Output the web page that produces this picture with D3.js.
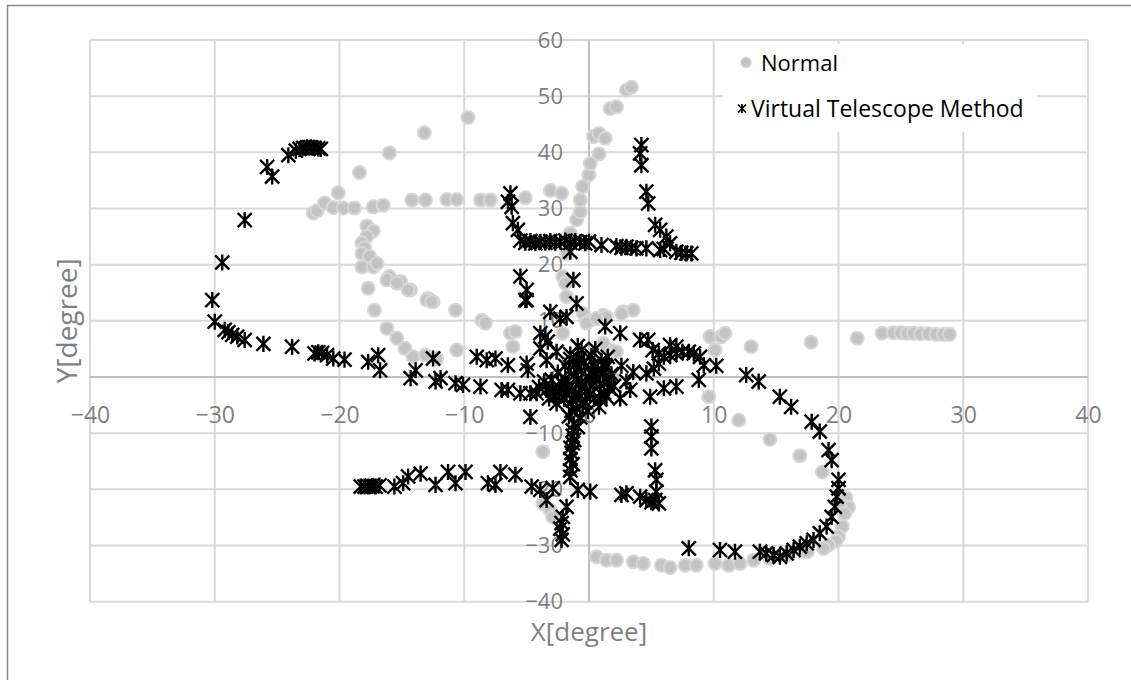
<!DOCTYPE html>
<html>
<head>
<meta charset="utf-8">
<script src="https://cdn.jsdelivr.net/npm/d3@7"></script>
<style>
  html, body { margin: 0; padding: 0; background: #fff; }
  svg { display: block; font-family: "Open Sans", "DejaVu Sans", sans-serif; }
</style>
</head>
<body>
<svg id="chart" width="1131" height="680"></svg>
<script>
// ---- Data ----
const xTicks = [-40, -30, -20, -10, 0, 10, 20, 30, 40];
const yTicks = [-40, -30, -20, -10, 0, 10, 20, 30, 40, 50, 60];
const seriesNames = ["Normal", "Virtual Telescope Method"];
const axisTitles = ["X[degree]", "Y[degree]"];

// Series 1: Normal (grey circles)
const normalX = [
  -18.4, -20.1, -22.1, -21.8, -21.2, -20.5, -19.7, -18.8, -17.3, -16.5, -14.2, -13.1, -11.4, -10.6, -8.7, -7.9, -5.1, -3.1, -2.2,
  -16.0, -13.2, -9.7,
  -17.8, -17.3, -17.8, -18.2, -18.0, -18.2, -17.6, -18.2, -17.3, -17.0,
  -16.0, -15.1, -14.3, -12.9, -12.5, -10.7, -8.6, -8.3, -6.3, -5.9,
  -17.7, -16.2, -15.4, -14.5, -13.0, -12.6,
  -17.2, -16.2, -15.4, -14.75, -14.1, -13.1, -12.2, -10.6, -6.1,
  -1.5, -1.0, -0.7, -0.7, -0.5, 0.0, 0.1, 0.8, 0.35, 0.8, 1.3, 1.7, 2.2, 3.0, 3.4,
  -1.8, -2.1, -1.9, -1.8, -0.46, 0.1, 1.15, 2.75, 3.55, 2.6, 1.4, -0.2, 0.6,
  9.7, 10.6, 10.9, 10.1, 13.0, 17.8, 21.5, 23.5, 24.4, 25.0, 25.5, 26.0, 26.6, 27.2, 27.8, 28.4, 28.9,
  -2.1, 1.7, 1.15, 2.2, 1.95, 9.6, 12.0, 14.5, 16.9, 18.7,
  20.6, 20.8, 20.1, 20.5, 20.3, 20.0, 19.8, 19.2, 18.8,
  0.6, 1.4, 2.2, 3.55, 4.35, 5.8, 6.5, 7.7, 8.6, 10.1, 11.2, 12.1, 13.2, 14.5, 16.0, 17.5,
  -3.7, -3.7, -3.1, -2.9
];
const normalY = [
  36.4, 32.8, 29.2, 29.6, 31.0, 30.2, 30.1, 30.1, 30.3, 30.6, 31.5, 31.5, 31.6, 31.6, 31.5, 31.5, 31.9, 33.2, 32.7,
  39.9, 43.5, 46.2,
  26.9, 26.0, 25.0, 23.9, 23.0, 22.0, 21.5, 19.6, 19.6, 20.2,
  17.9, 17.0, 15.5, 14.0, 13.4, 11.9, 10.1, 9.6, 7.8, 8.1,
  15.8, 17.3, 16.7, 15.5, 13.7, 13.4,
  11.9, 8.7, 6.9, 5.1, 3.6, 3.9, 3.3, 4.8, 5.4,
  25.6, 28.0, 29.4, 31.5, 33.9, 36.0, 38.0, 39.7, 42.8, 43.4, 42.5, 47.8, 48.1, 51.1, 51.6,
  22.0, 17.9, 16.7, 14.3, 11.3, 10.1, 11.0, 11.6, 11.9, 11.3, 10.7, 9.6, 10.4,
  7.2, 7.2, 7.8, 4.8, 5.4, 6.2, 6.9, 7.8, 7.9, 7.9, 7.8, 7.8, 7.7, 7.7, 7.6, 7.6, 7.6,
  7.8, 4.8, 6.0, 4.5, 0.05, -3.5, -7.7, -11.1, -14.0, -16.9,
  -21.5, -23.2, -22.5, -24.3, -26.6, -28.4, -29.2, -29.9, -30.5,
  -32.0, -32.6, -32.6, -32.9, -33.2, -33.5, -33.9, -33.5, -33.5, -33.2, -33.5, -33.2, -32.6, -32.3, -31.7, -31.1,
  -13.3, -22.5, -23.7, -24.9
];

// Series 2: Virtual Telescope Method (stars)
const vtX = [
  -24.1, -23.5, -23.2, -22.9, -22.6, -22.3, -22.0, -21.7, -21.5,
  -25.8, -25.4, -27.6, -29.4, -30.2, -30.0,
  -29.2, -28.9, -28.6, -28.2, -27.6, -26.1, -23.8, -22.0, -21.7, -21.4, -21.0, -20.5, -19.6, -17.7, -16.9, -16.75, -14.3, -13.9, -12.5, -12.3,
  -11.9, -10.7, -10.1, -8.7, -7.0, -6.5, -5.5, -4.7, -4.2, -3.4, -2.6, -4.7,
  -9.0, -8.2, -7.5, -6.5, -5.0, -4.9, -3.4,
  -5.0, -3.1, -1.0, -1.8, 1.3, -3.5, -3.3, -3.9, -0.6, -2.3, -3.9,
  -5.5, -5.0, -5.1, -1.25,
  -6.3, -6.5, -6.2, -6.1, -5.7,
  -5.5, -5.1, -4.7, -4.3, -3.9, -3.5, -3.1, -2.7, -2.3, -1.9, -1.5, -1.1, -0.7, -0.3, 0.0,
  -1.5, 1.0, 2.2, 2.6, 3.0, 3.4, 3.8, 4.6,
  4.2, 4.1, 4.2, 4.6, 4.75, 5.3, 5.7, 6.2, 6.5, 5.7, 6.0, 7.0, 7.4, 7.8, 8.2,
  -1.5, -0.8, 0.2, 1.0, -1.9, -0.3, 0.7, 1.8, -1.2, 0.0, -0.6, 0.9, 2.0, -1.7, -0.2, 1.2, -1.1, 0.4, -2.0, -0.5, 0.8, -1.4, -0.7, -1.2, 0.3, -2.5, -3.0, -2.2, 2.6, 3.0, -0.9, 0.5, 1.5, -2.6, -3.2, -4.0, -3.6,
  -1.0, -0.4, 0.4, 1.3, -1.6, -0.9, 0.2, 1.1, -1.9, -1.0, 0.6, 1.5, -1.4, -0.6, 0.3, 1.6, -1.8, -0.8, 0.1, -1.3, -0.3, 0.9, -1.0, -0.1, -1.6, -0.9, -2.4, -2.9, -2.7, -1.5,
  -1.3, -1.3, -1.2, -1.3, -1.4, -1.3, -1.5, -1.5, -1.5, -1.5, -0.9, 0.1, -1.8, -2.1, -2.2, -2.3, -2.1, -2.2,
  2.5, 4.1, 4.75, 6.5, 7.0, 5.1, 5.6, 6.0, 6.5, 7.0, 7.5, 8.0, 8.4, 8.9, 9.2, 10.2, 8.8, 7.0, 6.0, 4.9, 3.3, 2.5, 3.55, 4.6, 5.2, 5.6, 1.4, 1.4,
  12.6, 13.6, 15.3, 16.2, 17.85, 18.5, 19.2, 19.45, 20.0, 20.0, 19.85, 19.7, 19.45, 19.05, 18.5, 18.0, 17.45, 16.9, 16.4, 15.85, 15.3, 14.8, 14.2, 13.7, 11.7, 10.5, 8.0,
  5.0, 5.0, 5.0, 5.3, 5.4, 5.4, 5.3, 5.6, 5.0, 3.0, 4.1, 4.6, 2.6,
  -18.3, -18.0, -17.7, -17.4, -17.1, -16.8, -15.6, -14.9, -14.5, -13.5, -12.3, -11.3, -10.7, -9.9, -8.1, -7.5, -7.1, -5.9, -4.6, -3.9, -3.4, -2.9
];
const vtY = [
  39.5, 40.3, 40.6, 40.8, 40.9, 40.9, 40.8, 40.7, 40.6,
  37.4, 35.7, 27.95, 20.4, 13.7, 9.85,
  8.4, 8.0, 7.5, 7.2, 6.6, 5.9, 5.4, 4.2, 4.4, 4.3, 3.9, 3.3, 3.1, 2.7, 3.9, 1.2, -0.2, 1.2, 3.3, -0.8,
  -0.2, -1.1, -1.4, -1.7, -2.3, -2.3, -2.9, -2.9, -2.9, -2.3, -4.7, -7.1,
  3.6, 3.0, 3.3, 2.1, 2.4, 1.2, 3.0,
  13.7, 11.6, 13.1, 10.7, 9.0, 7.2, 6.3, 5.1, 4.8, 10.4, 7.8,
  17.9, 15.5, 13.7, 17.3,
  32.7, 31.2, 30.3, 27.4, 26.2,
  24.3, 23.9, 24.2, 23.8, 24.1, 23.9, 24.2, 23.9, 24.1, 24.3, 23.9, 24.2, 24.0, 23.8, 24.1,
  22.3, 23.5, 23.3, 23.0, 23.2, 23.0, 22.9, 22.9,
  41.3, 39.8, 37.7, 33.0, 30.9, 27.1, 26.2, 25.0, 23.8, 22.6, 22.8, 22.3, 22.1, 22.0, 22.0,
  4.0, 3.2, 3.8, 2.9, 2.0, 1.8, 1.2, 0.5, 0.3, -0.2, -0.9, -1.3, -1.6, -1.6, -2.4, -2.8, -3.2, -3.9, -3.9, -5.0, -5.3, -6.0, -7.2, -8.3, 0.6, 0.8, -0.5, -1.0, 2.0, -0.8, 5.5, 5.0, 3.6, 4.5, -3.8, -1.8, -0.8,
  2.5, 2.7, 2.3, 2.1, 1.1, 1.4, 1.0, 0.8, -0.4, -0.6, -0.4, -0.7, -2.2, -1.8, -1.5, -2.0, -2.9, -3.0, -3.1, -4.2, -4.4, -4.0, -5.6, -6.1, -7.0, -8.9, -2.6, -2.0, -3.4, 3.2,
  -9.5, -10.5, -11.2, -11.8, -13.5, -15.5, -17.8, -12.6, -14.6, -16.6, -20.1, -20.4, -23.1, -24.9, -26.0, -27.0, -28.0, -29.0,
  7.8, 6.6, 6.6, 5.7, 5.4, 4.8, 4.2, 3.6, 3.9, 4.2, 4.5, 4.5, 4.2, 3.6, 2.1, 2.0, -0.5, -1.7, -2.0, -3.5, -2.3, -3.8, 0.9, 0.65, 1.5, 2.4, 1.8, -3.5,
  0.35, -0.8, -3.5, -5.3, -7.95, -9.7, -13.0, -14.8, -18.3, -19.8, -21.3, -23.1, -24.9, -26.6, -27.8, -29.0, -29.6, -30.2, -30.8, -31.4, -32.0, -31.7, -31.4, -31.1, -31.1, -30.8, -30.5,
  -8.8, -10.6, -12.7, -16.6, -18.3, -20.4, -21.9, -22.5, -22.3, -20.7, -21.3, -21.9, -21.0,
  -19.5, -19.5, -19.5, -19.4, -19.5, -19.3, -19.5, -18.9, -17.7, -17.2, -19.2, -16.9, -18.9, -16.9, -18.9, -19.2, -16.9, -17.4, -19.5, -20.1, -21.9, -19.8
];

// ---- Chart ----
const svg = d3.select("#chart");
const W = 1131, H = 680;
const plot = { left: 90, right: 1088, top: 40, bottom: 601.7 };

const x = d3.scaleLinear().domain([-40, 40]).range([plot.left, plot.right]);
const y = d3.scaleLinear().domain([-40, 60]).range([plot.bottom, plot.top]);

// outer chart border
svg.append("rect")
  .attr("x", 7.5).attr("y", 5.5)
  .attr("width", W + 20).attr("height", H + 20)
  .attr("fill", "#fff").attr("stroke", "#8a8a8a").attr("stroke-width", 1.5);

// gridlines
const grid = svg.append("g");
grid.selectAll("line.v").data(xTicks).join("line")
  .attr("x1", d => x(d)).attr("x2", d => x(d))
  .attr("y1", plot.top).attr("y2", plot.bottom)
  .attr("stroke", "#d9d9d9").attr("stroke-width", 2);
grid.selectAll("line.h").data(yTicks).join("line")
  .attr("x1", plot.left).attr("x2", plot.right)
  .attr("y1", d => y(d)).attr("y2", d => y(d))
  .attr("stroke", "#d9d9d9").attr("stroke-width", 2);

// axis lines through the origin
svg.append("line")
  .attr("x1", plot.left).attr("x2", plot.right)
  .attr("y1", y(0)).attr("y2", y(0))
  .attr("stroke", "#bfbfbf").attr("stroke-width", 2);
svg.append("line")
  .attr("x1", x(0)).attr("x2", x(0))
  .attr("y1", plot.top).attr("y2", plot.bottom)
  .attr("stroke", "#bfbfbf").attr("stroke-width", 2);

// tick labels with d3 axes
const xAxis = svg.append("g")
  .attr("transform", `translate(0,${y(0)})`)
  .call(d3.axisBottom(x).tickValues(xTicks).tickSize(0).tickFormat(d3.format("d")));
xAxis.select(".domain").remove();
xAxis.selectAll("text")
  .attr("y", 38).attr("dy", "0.35em")
  .attr("fill", "#7f7f7f").style("font-size", "23px")
  .style("font-family", "'Open Sans', sans-serif");

const yAxis = svg.append("g")
  .attr("transform", `translate(${x(0)},0)`)
  .call(d3.axisLeft(y).tickValues(yTicks).tickSize(0).tickFormat(d3.format("d")));
yAxis.select(".domain").remove();
yAxis.selectAll("text")
  .attr("x", -26).attr("dy", "0.32em")
  .attr("fill", "#7f7f7f").style("font-size", "22px")
  .style("font-family", "'Open Sans', sans-serif");

// axis titles
svg.append("text")
  .attr("x", (plot.left + plot.right) / 2).attr("y", 641)
  .attr("text-anchor", "middle")
  .attr("fill", "#7f7f7f").style("font-size", "26px")
  .text(axisTitles[0]);
svg.append("text")
  .attr("transform", `translate(77,${(plot.top + plot.bottom) / 2}) rotate(-90)`)
  .attr("text-anchor", "middle")
  .attr("fill", "#7f7f7f").style("font-size", "28px")
  .text(axisTitles[1]);

// series 1: Normal
const normalData = normalX.map((v, i) => [v, normalY[i]]);
svg.append("g").selectAll("circle").data(normalData).join("circle")
  .attr("cx", d => x(d[0])).attr("cy", d => y(d[1]))
  .attr("r", 6.5)
  .attr("fill", "#c3c3c3")
  .attr("stroke", "#d6d6d6").attr("stroke-width", 2);

// series 2: Virtual Telescope Method (star marker: X + vertical bar)
function starPath(s) {
  return `M${-s},${-s}L${s},${s}M${-s},${s}L${s},${-s}M0,${-s * 1.1}L0,${s * 1.1}`;
}
const vtData = vtX.map((v, i) => [v, vtY[i]]);
svg.append("g").selectAll("path").data(vtData).join("path")
  .attr("transform", d => `translate(${x(d[0])},${y(d[1])})`)
  .attr("d", starPath(6.2))
  .attr("fill", "none")
  .attr("stroke", "#000").attr("stroke-width", 2.4)
  .attr("stroke-linecap", "square");

// legend
const lg = svg.append("g");
lg.append("rect")
  .attr("x", 723).attr("y", 44).attr("width", 314).attr("height", 88)
  .attr("fill", "#fff");
lg.append("circle")
  .attr("cx", 746).attr("cy", 62.5).attr("r", 5)
  .attr("fill", "#c3c3c3").attr("stroke", "#d6d6d6").attr("stroke-width", 1.5);
lg.append("text")
  .attr("x", 761).attr("y", 71)
  .attr("fill", "#000").style("font-size", "22px")
  .text(seriesNames[0]);
lg.append("path")
  .attr("transform", "translate(742,108.5)")
  .attr("d", starPath(4))
  .attr("fill", "none").attr("stroke", "#000").attr("stroke-width", 1.7);
lg.append("text")
  .attr("x", 751).attr("y", 116.5)
  .attr("fill", "#000").style("font-size", "23px")
  .text(seriesNames[1]);
</script>
</body>
</html>
